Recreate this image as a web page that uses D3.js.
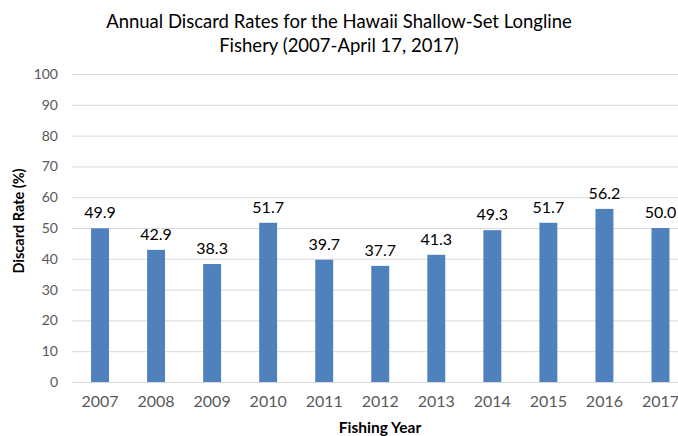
<!DOCTYPE html>
<html><head><meta charset="utf-8">
<script src="https://cdn.jsdelivr.net/npm/d3@7"></script>
<style>
html,body{margin:0;padding:0;background:#fff;}
svg{display:block;font-family:Lato,"DejaVu Sans",sans-serif;}
</style></head>
<body>
<svg id="chart" width="678" height="436"></svg>
<script>
const years = ["2007","2008","2009","2010","2011","2012","2013","2014","2015","2016","2017"];
const discardRates = [49.9, 42.9, 38.3, 51.7, 39.7, 37.7, 41.3, 49.3, 51.7, 56.2, 50.0];
const yTicks = [0,10,20,30,40,50,60,70,80,90,100];
const titleLines = ["Annual Discard Rates for the Hawaii Shallow-Set Longline", "Fishery (2007-April 17, 2017)"];

const svg = d3.select("#chart");
const margin = {left:72, top:74, bottom:382};
const plotRight = 688.5;

const x = d3.scaleBand().domain(years).range([margin.left, plotRight]).paddingInner(0.68).paddingOuter(0.34);
const y = d3.scaleLinear().domain([0,100]).range([margin.bottom, margin.top]);

// gridlines
svg.append("g").selectAll("line").data(yTicks).join("line")
  .attr("x1", margin.left).attr("x2", plotRight)
  .attr("y1", d=>y(d)+0.5).attr("y2", d=>y(d)+0.5)
  .attr("stroke", "#d9d9d9").attr("stroke-width", 1);

// y axis labels
const yAxis = d3.axisLeft(y).tickValues(yTicks).tickSize(0).tickPadding(14);
const gy = svg.append("g").attr("transform", `translate(${margin.left},0)`).call(yAxis);
gy.select(".domain").remove();
gy.selectAll("text").attr("font-size", 14).attr("fill", "#595959").attr("font-family", "Lato");

// x axis labels
const xAxis = d3.axisBottom(x).tickSize(0).tickPadding(14);
const gx = svg.append("g").attr("transform", `translate(0,${margin.bottom})`).call(xAxis);
gx.select(".domain").remove();
gx.selectAll("text").attr("font-size", 16).attr("fill", "#595959").attr("font-family", "Lato");

// bars
svg.append("g").selectAll("rect").data(discardRates).join("rect")
  .attr("x", (d,i)=>x(years[i]))
  .attr("width", x.bandwidth())
  .attr("y", d=>y(d))
  .attr("height", d=>y(0)-y(d))
  .attr("fill", "#4f81bd");

// data labels
svg.append("g").selectAll("text").data(discardRates).join("text")
  .attr("x", (d,i)=>x(years[i]) + x.bandwidth()/2)
  .attr("y", d=>y(d) - 10)
  .attr("text-anchor", "middle")
  .attr("font-size", 16).attr("fill", "#000")
  .text(d=>d.toFixed(1));

// title
svg.append("g").selectAll("text").data(titleLines).join("text")
  .attr("x", 339).attr("y", (d,i)=>28 + i*24)
  .attr("text-anchor", "middle")
  .attr("font-size", 18.5).attr("fill", "#000")
  .text(d=>d);

// axis titles
svg.append("text")
  .attr("transform", "translate(24,221) rotate(-90)")
  .attr("text-anchor", "middle")
  .attr("font-size", 14.5).attr("font-weight", "bold").attr("fill", "#000")
  .text("Discard Rate (%)");
svg.append("text")
  .attr("x", 380).attr("y", 433)
  .attr("text-anchor", "middle")
  .attr("font-size", 15.5).attr("font-weight", "bold").attr("fill", "#000")
  .text("Fishing Year");
</script>
</body></html>
